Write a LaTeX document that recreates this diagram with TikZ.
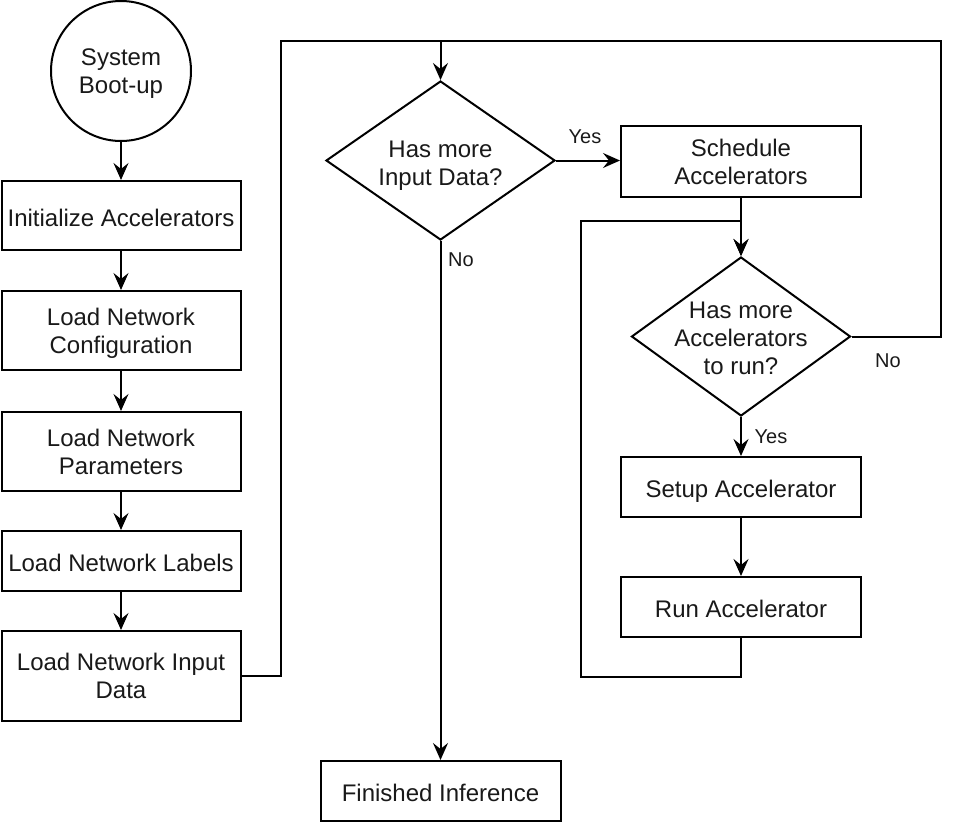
\documentclass[tikz,border=0pt]{standalone}
\usepackage{fontspec}
\setmainfont{Liberation Sans}
\usetikzlibrary{shapes.geometric,arrows.meta}
\begin{document}
\begin{tikzpicture}[x=1pt,y=-1pt,
  every node/.style={font=\fontsize{24}{28}\selectfont, text=black!90},
  one/.style={text height=21pt, text depth=0pt},
  multi/.style={text depth=-4pt},
  box/.style={draw=black, line width=2pt, rectangle, minimum width=239pt, inner sep=0pt, align=center},
  dec/.style={draw=black, line width=2pt, diamond, inner sep=0pt, minimum width=229pt, minimum height=159pt},
  dtext/.style={align=center, inner sep=0pt, multi},
  conn/.style={draw=black, line width=2pt},
  arr/.style={conn, -{Stealth[length=17pt,width=15pt,inset=6pt]}},
  lbl/.style={font=\fontsize{20}{24}\selectfont, anchor=base, inner sep=0pt}
]
\useasboundingbox (0,0) rectangle (960,822);
\node[draw=black, line width=2pt, circle, minimum size=140pt, inner sep=0pt, align=center, text depth=-8pt] (boot) at (121,71) {System\\Boot-up};
\node[box, one, minimum height=69pt] (init) at (121,215.5) {Initialize Accelerators};
\node[box, multi, minimum height=79pt] (conf) at (121,330.5) {Load Network\\Configuration};
\node[box, multi, minimum height=79pt] (par) at (121,451.5) {Load Network\\Parameters};
\node[box, one, minimum height=60pt] (lab) at (121,561) {Load Network Labels};
\node[box, multi, minimum height=90pt] (inp) at (121,676) {Load Network Input\\Data};
\node[dec] (d1) at (440.5,160.5) {};
\node[dtext] (d1t) at (440.5,163) {Has more\\Input Data?};
\node[box, multi, minimum width=240pt, minimum height=71pt] (sched) at (741,161.5) {Schedule\\Accelerators};
\node[dec, minimum width=219pt] (d2) at (741,336.5) {};
\node[dtext] (d2t) at (741,338.5) {Has more\\Accelerators\\to run?};
\node[box, one, minimum width=240pt, minimum height=60pt] (setup) at (741,487) {Setup Accelerator};
\node[box, one, minimum width=240pt, minimum height=60pt] (run) at (741,607) {Run Accelerator};
\node[box, one, minimum width=240pt, minimum height=60pt] (fin) at (440.5,791) {Finished Inference};

\coordinate (t1) at (281,41);
\coordinate (t2) at (941,41);
\coordinate (l1) at (581,221);
\coordinate (l2) at (581,677);

\draw[arr] (boot) -- (init);
\draw[arr] (init) -- (conf);
\draw[arr] (conf) -- (par);
\draw[arr] (par) -- (lab);
\draw[arr] (lab) -- (inp);
\draw[arr] (inp.east) -| (t1) -| (d1.north);
\draw[arr] (d1.east) -- (d1.east -| sched.west);
\draw[arr] (d1.south) -- (fin.north);
\draw[arr] (sched.south) -- (d2.north);
\draw[arr] (run.south) |- (l2) -- (l1) -| (d2.north);
\draw[conn] (d2.east) -| (t2) -- (d1.north |- t2);
\draw[arr] (d2.south) -- (setup.north);
\draw[arr] (setup) -- (run);

\node[lbl] (yes1) at (585,143) {Yes};
\node[lbl] (no1) at (461,266) {No};
\node[lbl] (no2) at (888,367) {No};
\node[lbl] (yes2) at (771,443) {Yes};
\end{tikzpicture}
\end{document}
